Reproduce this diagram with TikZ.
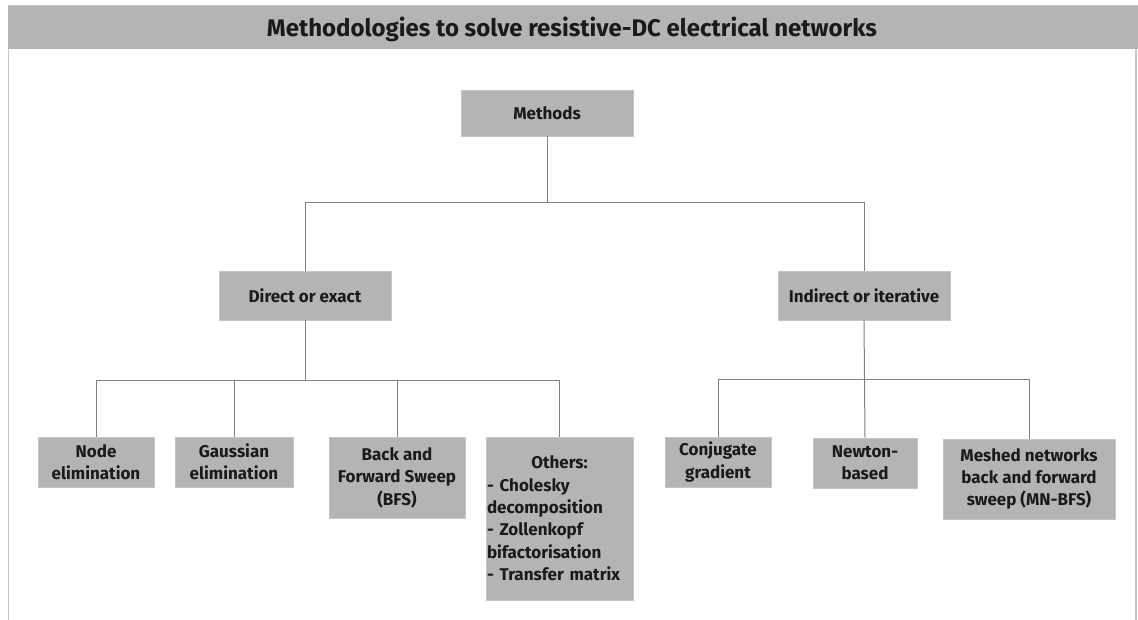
\documentclass[tikz,border=0pt]{standalone}
\usepackage{fontspec}
\setmainfont{Fira Sans}
\definecolor{boxgray}{HTML}{B5B3B5}
\definecolor{edgegray}{HTML}{C6C5C6}
\definecolor{linegray}{HTML}{808080}
\definecolor{inkdark}{HTML}{1A1A1A}
\begin{document}
\begin{tikzpicture}[x=1pt,y=-1pt,
  box/.style={draw=edgegray,line width=0.8pt,fill=boxgray,text=inkdark,
    font=\fontsize{17}{22.4}\selectfont\bfseries,align=center,
    inner sep=0pt,anchor=center},
  link/.style={draw=linegray,line width=1pt}]
\useasboundingbox (0,0) rectangle (1138,620);
% title band and frame
\fill[boxgray] (8,6) rectangle (1138,49);
\draw[edgegray,line width=1pt] (8,6) -- (1138,6);
\draw[edgegray,line width=1.2pt] (8.6,49) -- (8.6,620);
\draw[edgegray,line width=1.2pt] (1136,49) -- (1136,620);
\node[text=inkdark,anchor=base,inner sep=0pt,font=\fontsize{24}{28}\selectfont\bfseries] (title) at (572,37) {Methodologies to solve resistive-DC electrical networks};
% root and first level
\node[box,minimum width=172pt,minimum height=46pt] (methods) at (547,113) {Methods};
\node[box,minimum width=172pt,minimum height=49pt] (direct) at (305,295.5) {Direct or exact};
\node[box,minimum width=172pt,minimum height=49pt] (indirect) at (864,295.5) {Indirect or iterative};
% direct methods
\node[box,minimum width=116pt,minimum height=50pt] (nodeel) at (96,462) {Node\\elimination};
\node[box,minimum width=118pt,minimum height=50pt] (gauss) at (234,462) {Gaussian\\elimination};
\node[box,minimum width=136pt,minimum height=81pt] (bfs) at (397,477.5) {Back and\\Forward Sweep\\(BFS)};
\node[box,minimum width=147pt,minimum height=163pt,text width=145pt,align=left] (others) at (559.5,518.5)
  {\centering Others:\par\raggedright - Cholesky\\decomposition\\- Zollenkopf\\bifactorisation\\- Transfer matrix};
% iterative methods
\node[box,minimum width=106pt,minimum height=50pt] (conj) at (718,462) {Conjugate\\gradient};
\node[box,minimum width=104pt,minimum height=50pt] (newton) at (865,463) {Newton-\\based};
\node[box,minimum width=172pt,minimum height=80pt] (meshed) at (1029,479) {Meshed networks\\back and forward\\sweep (MN-BFS)};
% bus levels
\coordinate (busA) at (0,203);
\coordinate (busB) at (0,380);
\coordinate (busC) at (0,379.5);
% connectors
\draw[link] (methods.south) -- (methods.south |- busA) -| (direct.north);
\draw[link] (methods.south |- busA) -| (indirect.north);
\draw[link] (direct.south) -- (direct.south |- busB);
\draw[link] (nodeel.north) |- (others.north |- busB) -- (others.north);
\draw[link] (gauss.north) -- (gauss.north |- busB);
\draw[link] (bfs.north) -- (bfs.north |- busB);
\draw[link] (indirect.south) -- (newton.north);
\draw[link] (conj.north) |- (meshed.north |- busC) -- (meshed.north);
\end{tikzpicture}
\end{document}
